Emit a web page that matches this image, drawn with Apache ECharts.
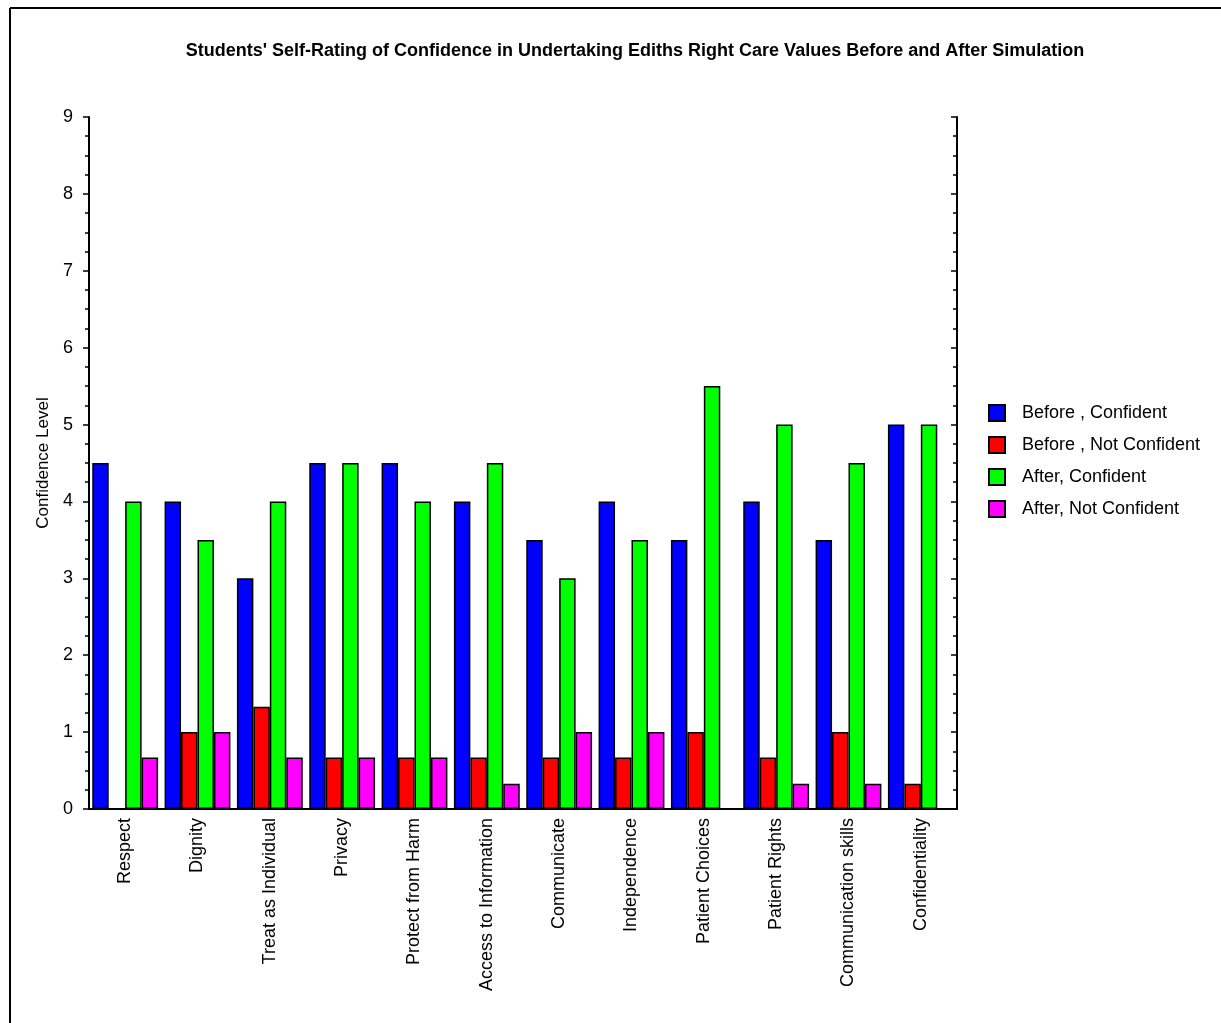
<!DOCTYPE html>
<html>
<head>
<meta charset="utf-8">
<script src="https://cdn.jsdelivr.net/npm/echarts@6/dist/echarts.min.js"></script>
<style>
html,body{margin:0;padding:0;background:#fff;}
#chart{width:1221px;height:1023px;}
</style>
</head>
<body>
<div id="chart"></div>
<script>
var categories = ['Respect','Dignity','Treat as Individual','Privacy','Protect from Harm','Access to Information','Communicate','Independence','Patient Choices','Patient Rights','Communication skills','Confidentiality'];
var beforeConfident    = [4.5, 4, 3, 4.5, 4.5, 4, 3.5, 4, 3.5, 4, 3.5, 5];
var beforeNotConfident = [0, 1, 1.33, 0.67, 0.67, 0.67, 0.67, 0.67, 1, 0.67, 1, 0.33];
var afterConfident     = [4, 3.5, 4, 4.5, 4, 4.5, 3, 3.5, 5.5, 5, 4.5, 5];
var afterNotConfident  = [0.67, 1, 0.67, 0.67, 0.67, 0.33, 1, 1, 0, 0.33, 0.33, 0];
var seriesNames = ['Before , Confident','Before , Not Confident','After, Confident','After, Not Confident'];
var seriesColors = ['#0000FF','#FF0000','#00FF00','#FF00FF'];
var seriesData = [beforeConfident, beforeNotConfident, afterConfident, afterNotConfident];

var font = 'Liberation Sans, Arial, sans-serif';
var chart = echarts.init(document.getElementById('chart'));

var series = seriesNames.map(function(n, i){
  return {
    name: n, type: 'bar', xAxisIndex: 0, yAxisIndex: 0,
    data: seriesData[i],
    barGap: '0%', barCategoryGap: '9%',
    itemStyle: {color: seriesColors[i], borderColor: '#000', borderWidth: 1.5},
    emphasis: {disabled: true}
  };
});

chart.setOption({
  animation: false,
  backgroundColor: '#fff',
  title: {
    text: "Students' Self-Rating of Confidence in Undertaking Ediths Right Care Values Before and After Simulation",
    left: 630, top: 37, textAlign: 'center',
    textStyle: {fontFamily: font, fontSize: 18, fontWeight: 'bold', color: '#000'}
  },
  legend: {
    orient: 'vertical', left: 983, top: 399,
    itemWidth: 16, itemHeight: 16, itemGap: 14,
    icon: 'rect',
    data: seriesNames,
    itemStyle: {borderColor: '#000', borderWidth: 2},
    textStyle: {fontFamily: font, fontSize: 18, lineHeight: 16, color: '#000', padding: [0,0,0,12]}
  },
  grid: {left: 89, right: 264, top: 117, bottom: 214, containLabel: false},
  xAxis: [{
    type: 'category', data: categories, position: 'bottom',
    axisLine: {lineStyle: {color: '#000', width: 2}},
    axisTick: {alignWithLabel: true, length: 5, lineStyle: {color: '#000', width: 1.5}},
    axisLabel: {rotate: 90, fontFamily: font, fontSize: 18, color: '#000', margin: 9, interval: 0}
  },{
    type: 'category', data: categories, position: 'top',
    axisLine: {lineStyle: {color: '#000', width: 2}},
    axisTick: {alignWithLabel: true, length: 5, lineStyle: {color: '#000', width: 1.5}},
    axisLabel: {show: false}
  }],
  yAxis: [{
    type: 'value', min: 0, max: 9, interval: 1, position: 'left',
    name: 'Confidence Level', nameLocation: 'middle', nameGap: 32, nameRotate: 90,
    nameTextStyle: {fontFamily: font, fontSize: 17, color: '#000'},
    axisLine: {show: true, lineStyle: {color: '#000', width: 2}},
    axisTick: {show: true, length: 6, lineStyle: {color: '#000', width: 1.5}},
    minorTick: {show: true, splitNumber: 4, length: 4, lineStyle: {color: '#000', width: 1.5}},
    axisLabel: {fontFamily: font, fontSize: 18, color: '#000', margin: 16},
    splitLine: {show: false}
  },{
    type: 'value', min: 0, max: 9, interval: 1, position: 'right',
    axisLine: {show: true, lineStyle: {color: '#000', width: 2}},
    axisTick: {show: true, inside: true, length: 6, lineStyle: {color: '#000', width: 1.5}},
    minorTick: {show: true, splitNumber: 4, length: 4, lineStyle: {color: '#000', width: 1.5}},
    axisLabel: {show: false},
    splitLine: {show: false}
  }],
  series: series,
  graphic: [
    {type: 'line', shape: {x1: 10, y1: 8, x2: 1221, y2: 8}, style: {stroke: '#000', lineWidth: 2}},
    {type: 'line', shape: {x1: 10, y1: 8, x2: 10, y2: 1023}, style: {stroke: '#000', lineWidth: 2}}
  ]
});
</script>
</body>
</html>
